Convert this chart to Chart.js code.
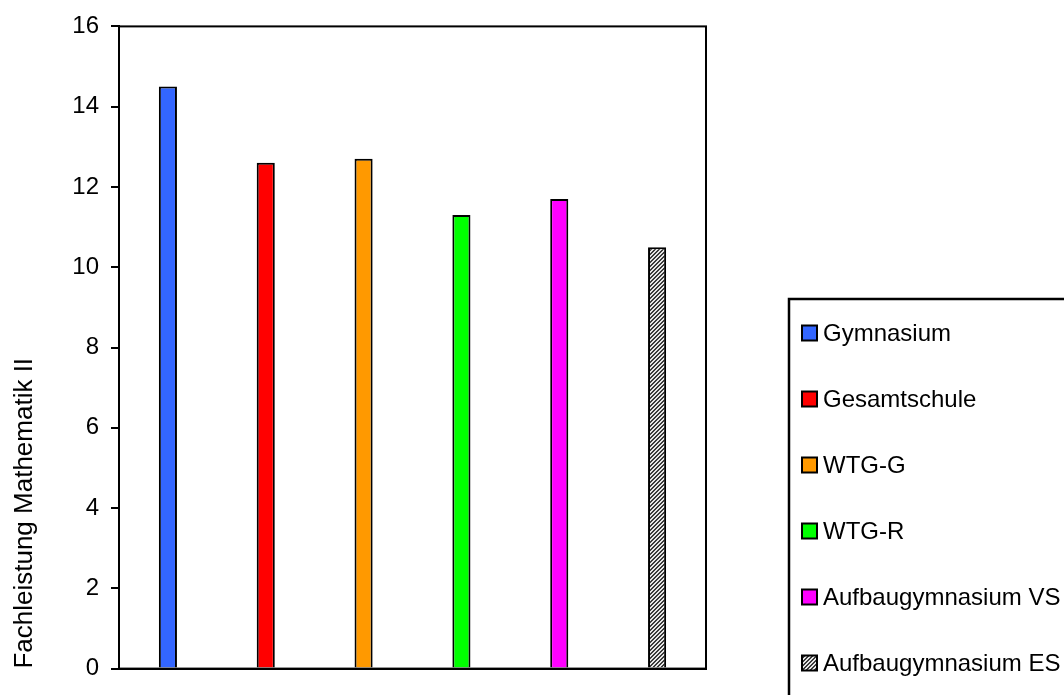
<!DOCTYPE html>
<html>
<head>
<meta charset="utf-8">
<script src="https://cdn.jsdelivr.net/npm/chart.js@4.4.1/dist/chart.umd.min.js"></script>
<style>
html,body{margin:0;padding:0;background:#fff;}
#wrap{width:1064px;height:695px;position:relative;}
</style>
</head>
<body>
<div id="wrap"><canvas id="c" width="1064" height="695"></canvas></div>
<script>
const categories = ['Gymnasium', 'Gesamtschule', 'WTG-G', 'WTG-R', 'Aufbaugymnasium VS', 'Aufbaugymnasium ES'];
const values = [14.5, 12.6, 12.7, 11.3, 11.7, 10.5];
const barColors = ['#3366FF', '#FF0000', '#FF9900', '#00FF00', '#FF00FF', 'hatch'];
const yAxisTitle = 'Fachleistung Mathematik II';
const yMin = 0, yMax = 16, yStep = 2;

Chart.defaults.font.family = 'Arial, "Liberation Sans", sans-serif';
Chart.defaults.color = '#000';

function makeHatch() {
  const p = document.createElement('canvas');
  p.width = 4; p.height = 4;
  const g = p.getContext('2d');
  g.fillStyle = '#e6e6e6';
  g.fillRect(0, 0, 4, 4);
  g.fillStyle = '#3a3a3a';
  for (let i = 0; i < 4; i++) {
    g.fillRect((3 - i + 4) % 4, i, 1, 1);
    g.fillRect((4 - i + 4) % 4, i, 1, 1);
  }
  return document.getElementById('c').getContext('2d').createPattern(p, 'repeat');
}
const hatch = makeHatch();
const fills = barColors.map(c => c === 'hatch' ? hatch : c);

const framePlugin = {
  id: 'frame',
  afterDatasetsDraw(chart) {
    const {ctx, chartArea: a} = chart;
    ctx.save();
    ctx.strokeStyle = '#000';
    ctx.lineWidth = 2;
    ctx.strokeRect(a.left, a.top, a.right - a.left, a.bottom - a.top);
    ctx.restore();
  }
};

const legendPlugin = {
  id: 'boxLegend',
  afterDraw(chart) {
    const {ctx} = chart;
    ctx.save();
    ctx.strokeStyle = '#000';
    ctx.lineWidth = 2.5;
    ctx.strokeRect(789, 299, 400, 500);
    ctx.font = '24px Arial, "Liberation Sans", sans-serif';
    ctx.textBaseline = 'middle';
    ctx.textAlign = 'left';
    categories.forEach((name, i) => {
      const y = 333 + i * 66;
      ctx.fillStyle = fills[i];
      ctx.fillRect(802, y - 7.5, 15, 15);
      ctx.lineWidth = 2;
      ctx.strokeStyle = '#000';
      ctx.strokeRect(802, y - 7.5, 15, 15);
      ctx.fillStyle = '#000';
      ctx.fillText(name, 823, y + 1);
    });
    ctx.restore();
  }
};

new Chart(document.getElementById('c'), {
  type: 'bar',
  data: {
    labels: categories,
    datasets: [{
      data: values,
      backgroundColor: fills,
      borderColor: '#000',
      borderWidth: 2,
      borderSkipped: 'bottom',
      barPercentage: 0.185,
      categoryPercentage: 1.0
    }]
  },
  options: {
    responsive: false,
    animation: false,
    layout: {padding: {left: 0, top: 22, right: 358, bottom: 11}},
    plugins: {legend: {display: false}, tooltip: {enabled: false}},
    scales: {
      x: {
        ticks: {display: false},
        grid: {display: false},
        border: {display: true, color: '#000', width: 2},
        afterFit(s) { s.height = 0; }
      },
      y: {
        min: yMin, max: yMax,
        ticks: {stepSize: yStep, padding: 12, font: {size: 24}, color: '#000'},
        grid: {drawOnChartArea: false, drawTicks: true, tickLength: 8, color: '#000', lineWidth: 2},
        border: {display: true, color: '#000', width: 2},
        title: {display: true, text: yAxisTitle, align: 'start', font: {size: 26}, color: '#000', padding: {top: 9, bottom: 0}},
        afterFit(s) { s.width = 119; }
      }
    }
  },
  plugins: [framePlugin, legendPlugin]
});
</script>
</body>
</html>
